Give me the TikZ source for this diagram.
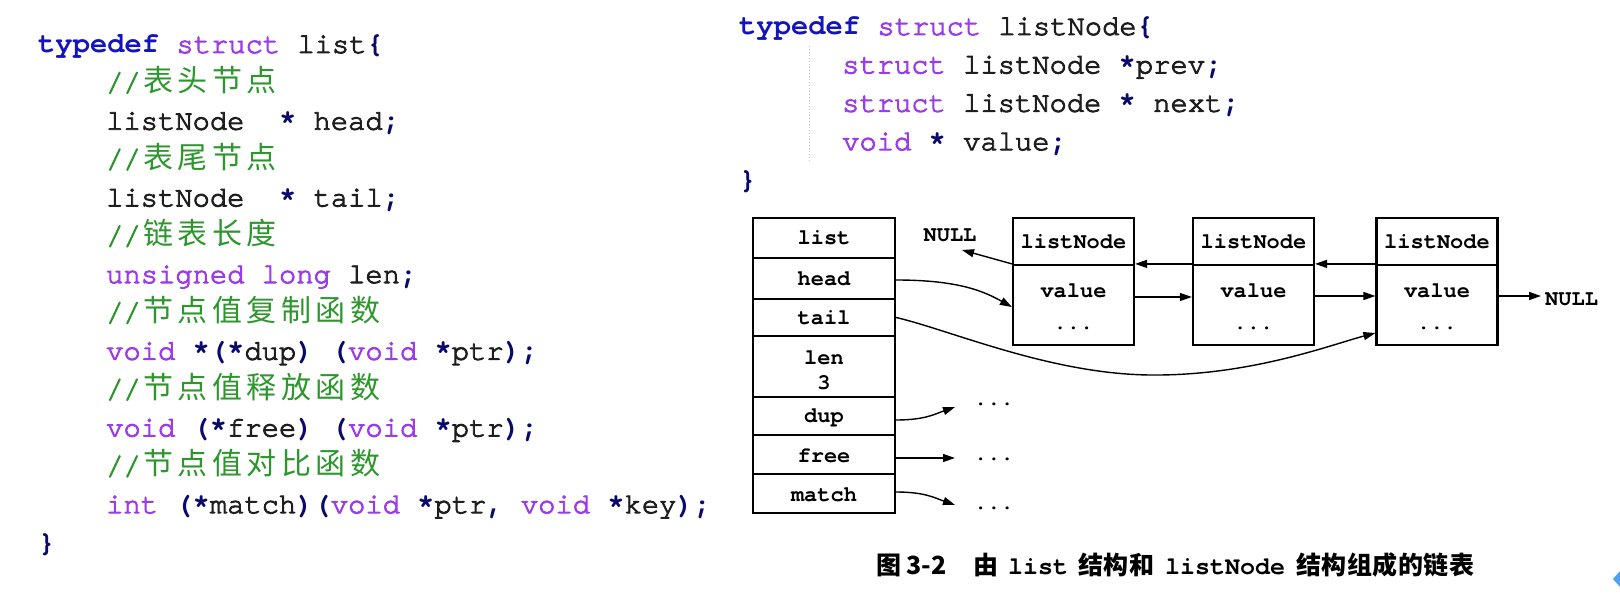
\documentclass[tikz,border=0pt]{standalone}
\usepackage{fontspec}
\setmonofont{texgyrecursor}[Extension=.otf, UprightFont=*-regular, BoldFont=*-bold, UprightFeatures={FakeBold=3}]
\newfontfamily\cjk{Noto Sans CJK SC}
\usetikzlibrary{arrows.meta,calc}
\definecolor{kwblue}{RGB}{20,20,190}
\definecolor{typurple}{RGB}{155,60,235}
\definecolor{cmgreen}{RGB}{45,150,45}
\definecolor{punct}{RGB}{10,10,110}
\definecolor{codeblack}{RGB}{30,30,30}
\definecolor{uiblue}{RGB}{80,160,250}
\newcommand\kw[1]{\textcolor{kwblue}{\bfseries #1}}
\newcommand\ty[1]{\textcolor{typurple}{#1}}
\newcommand\pu[1]{\textcolor{punct}{\bfseries #1}}
\makeatletter
\newdimen\spr@w
\def\spreadw#1#2{\spr@w=#1\relax\spr@loop#2\relax}
\def\spr@loop#1{\ifx#1\relax\else\makebox[\spr@w]{#1}\expandafter\spr@loop\fi}
\makeatother
\newcommand\cm[1]{\textcolor{cmgreen}{//{\cjk\fontsize{30}{38}\selectfont\spreadw{34.56pt}{#1}}}}
\tikzset{
  code/.style={anchor=base west, inner sep=0pt, text=codeblack,
    font=\ttfamily\fontsize{28.8}{38.4}\selectfont},
  dtext/.style={anchor=base, inner sep=0pt, text=black,
    font=\ttfamily\bfseries\fontsize{22}{25}\selectfont},
  trow/.style={draw, line width=2.2pt, inner sep=0pt, minimum width=142pt},
  nbox/.style={draw, line width=2.2pt, inner sep=0pt, minimum width=121pt},
  conn/.style={line width=1.4pt, -{Triangle[length=12pt,width=8pt]}},
  capc/.style={anchor=base west, inner sep=0pt, text=black,
    font=\cjk\bfseries\fontsize{25}{26}\selectfont},
  capm/.style={anchor=base west, inner sep=0pt, text=black,
    font=\ttfamily\bfseries\fontsize{25}{26}\selectfont}
}
\begin{document}
\begin{tikzpicture}[x=1pt,y=-1pt]
\fill[white] (0,0) rectangle (1620,596);
\useasboundingbox (0,0) rectangle (1620,596);

% ---------- left code ----------
\node[code] (l0) at (38,53) {\kw{typedef} \ty{struct} list\pu{\{}};
\node[code] (l1) at (106,91.35) {\cm{表头节点}};
\node[code] (l2) at (106,129.7) {listNode~~\pu{*} head\pu{;}};
\node[code] (l3) at (106,168.05) {\cm{表尾节点}};
\node[code] (l4) at (106,206.4) {listNode~~\pu{*} tail\pu{;}};
\node[code] (l5) at (106,244.75) {\cm{链表长度}};
\node[code] (l6) at (106,283.1) {\ty{unsigned long} len\pu{;}};
\node[code] (l7) at (106,321.45) {\cm{节点值复制函数}};
\node[code] (l8) at (106,359.8) {\ty{void} \pu{*(*}dup\pu{)} \pu{(}\ty{void} \pu{*}ptr\pu{);}};
\node[code] (l9) at (106,398.15) {\cm{节点值释放函数}};
\node[code] (l10) at (106,436.5) {\ty{void} \pu{(*}free\pu{)} \pu{(}\ty{void} \pu{*}ptr\pu{);}};
\node[code] (l11) at (106,474.85) {\cm{节点值对比函数}};
\node[code] (l12) at (106,513.2) {\ty{int} \pu{(*}match\pu{)(}\ty{void} \pu{*}ptr\pu{,} \ty{void} \pu{*}key\pu{);}};
\node[code] (l13) at (38,551.55) {\pu{\}}};

% ---------- right code ----------
\node[code] (r0) at (739,35) {\kw{typedef} \ty{struct} listNode\pu{\{}};
\node[code] (r1) at (842,73.4) {\ty{struct} listNode \pu{*}prev\pu{;}};
\node[code] (r2) at (842,111.8) {\ty{struct} listNode \pu{*} next\pu{;}};
\node[code] (r3) at (842,150.2) {\ty{void} \pu{*} value\pu{;}};
\node[code] (r4) at (739,188.6) {\pu{\}}};
\draw[gray!45, line width=1pt, dash pattern=on 1.5pt off 1.5pt] (809,46) -- (809,162);

% ---------- list table ----------
\node[trow, minimum height=40pt] (rlist) at (824,238) {};
\node[trow, minimum height=41pt] (rhead) at (824,278.5) {};
\node[trow, minimum height=37pt] (rtail) at (824,317.5) {};
\node[trow, minimum height=61pt] (rlen) at (824,366.5) {};
\node[trow, minimum height=38pt] (rdup) at (824,416) {};
\node[trow, minimum height=39pt] (rfree) at (824,454.5) {};
\node[trow, minimum height=39pt] (rmatch) at (824,493.5) {};
\node[dtext] (tlist) at (824,245) {list};
\node[dtext] (thead) at (824,285) {head};
\node[dtext] (ttail) at (824,324) {tail};
\node[dtext] (tlen) at (824,364) {len};
\node[dtext] (tthree) at (824,389) {3};
\node[dtext] (tdup) at (824,422) {dup};
\node[dtext] (tfree) at (824,462) {free};
\node[dtext] (tmatch) at (824,501) {match};

% ---------- listNode boxes ----------
\foreach \n/\cx in {1/1073.5, 2/1253.5, 3/1437} {
  \node[nbox, minimum height=47pt] (b\n h) at (\cx,241.5) {};
  \node[nbox, minimum height=80pt] (b\n v) at (\cx,305) {};
  \node[dtext] (b\n t) at (\cx,249) {listNode};
  \node[dtext] (b\n val) at (\cx,297) {value};
  \node[dtext] (b\n d) at (\cx,329) {...};
}

\node[dtext] (nullL) at (950,242) {NULL};
\node[dtext, anchor=base west] (nullR) at (1545,305) {NULL};
\node[dtext] (dots1) at (994,405) {...};
\node[dtext] (dots2) at (994,460) {...};
\node[dtext] (dots3) at (994,509) {...};

\coordinate (nullLtip) at (962,250);
\coordinate (nullRtip) at (1541,296);
\coordinate (dupTip) at (955,407);
\coordinate (freeTip) at (955,458);
\coordinate (matchTip) at (955,505);

% prev pointers
\draw[conn] (b2v.north west) -- (b1v.north east);
\draw[conn] (b3v.north west) -- (b2v.north east);
\draw[conn] (b1v.north west) -- (nullLtip);
% next pointers
\draw[conn] ([yshift=8pt]b1v.east) -- ([yshift=8pt]b2v.west);
\draw[conn] ([yshift=9pt]b2v.east) -- ([yshift=9pt]b3v.west);
\draw[conn] ([yshift=9pt]b3v.east) -- (nullRtip);
% head / tail
\draw[conn] ([yshift=-1.5pt]rhead.east) .. controls (960,280) and (985,292) .. ([yshift=-2pt]b1v.west);
\draw[conn] (rtail.east) .. controls (950,330) and (1050,374) .. (1150,375)
   .. controls (1250,376) and (1330,345) .. ([yshift=-28pt]b3v.west);
% function pointers
\draw[conn] ([yshift=-4pt]rdup.east) .. controls (925,420) and (935,414) .. (dupTip);
\draw[conn] ([yshift=-3.5pt]rfree.east) -- (freeTip);
\draw[conn] ([yshift=1.5pt]rmatch.east) .. controls (925,492) and (935,498) .. (matchTip);

% ---------- caption ----------
\node[capc] (cap1) at (876,574) {图};
\node[capc] (cap2) at (906,574) {3-2};
\node[capc] (cap3) at (973,574) {由};
\node[capm] (cap4) at (1008,574) {list};
\node[capc] (cap5) at (1078,574) {\spreadw{25.5pt}{结构和}};
\node[capm] (cap6) at (1165,574) {listNode};
\node[capc] (cap7) at (1296,574) {\spreadw{25.5pt}{结构组成的链表}};

% UI artefact at the corner
\fill[uiblue] (1620,571) -- (1613,579) -- (1620,587) -- cycle;
\end{tikzpicture}
\end{document}
